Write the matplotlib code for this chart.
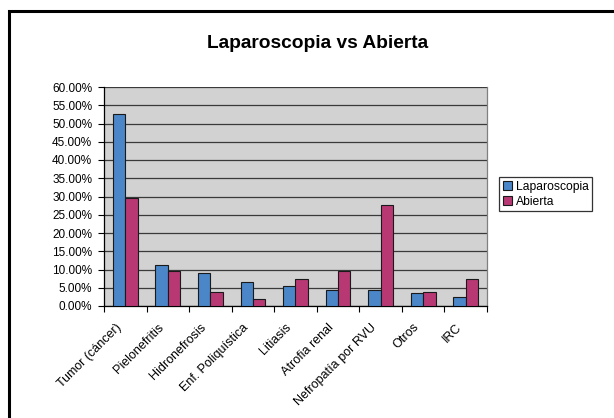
import matplotlib
matplotlib.use("Agg")
import matplotlib.pyplot as plt
import numpy as np
from matplotlib.patches import Rectangle

categories = ["Tumor (cáncer)", "Pielonefritis", "Hidronefrosis", "Enf. Poliquística",
              "Litiasis", "Atrofia renal", "Nefropatía por RVU", "Otros", "IRC"]
laparoscopia = [52.6, 11.1, 9.0, 6.7, 5.6, 4.5, 4.5, 3.5, 2.4]
abierta = [29.5, 9.5, 3.7, 2.0, 7.5, 9.5, 27.8, 3.7, 7.5]
series_names = ["Laparoscopia", "Abierta"]
title = "Laparoscopia vs Abierta"

plt.rcParams['font.family'] = ['Liberation Sans', 'DejaVu Sans']

W, H = 614, 418
fig = plt.figure(figsize=(W / 100, H / 100), dpi=100)
fig.patch.set_facecolor('white')

# outer chart border
fig.patches.append(Rectangle((9 / W, -0.1), 1.2, 1 - 11 / H + 0.1, transform=fig.transFigure,
                             fill=False, edgecolor='black', linewidth=2.2))

left, right, top, bottom = 104, 487, 87, 306
ax = fig.add_axes([left / W, 1 - bottom / H, (right - left) / W, (bottom - top) / H])
ax.set_facecolor('#D2D2D2')

x = np.arange(len(categories))
bw = 0.29
ax.bar(x - bw / 2, laparoscopia, bw, color='#4A86C8', edgecolor='#1a1a1a', linewidth=0.8,
       label=series_names[0], zorder=3)
ax.bar(x + bw / 2, abierta, bw, color='#B83873', edgecolor='#1a1a1a', linewidth=0.8,
       label=series_names[1], zorder=3)

ax.set_xlim(-0.5, len(categories) - 0.5)
ax.set_ylim(0, 60)
ax.set_yticks(np.arange(0, 61, 5))
ax.set_yticklabels([f"{v:.2f}%" for v in np.arange(0, 61, 5)], fontsize=8.5)
ax.yaxis.grid(True, color='#3a3a3a', linewidth=0.9, zorder=1)
ax.set_axisbelow(True)

ax.set_xticks(np.arange(-0.5, len(categories), 1))
ax.set_xticklabels([])
ax.set_xticks(x - 0.24, minor=True)
ax.set_xticklabels(categories, minor=True, rotation=45, ha='right', va='top',
                   rotation_mode='anchor', fontsize=9)
ax.tick_params(axis='x', which='minor', length=0, pad=11)
ax.tick_params(axis='x', which='major', length=4, direction='out', color='black')
ax.tick_params(axis='y', length=4, direction='out', color='black', pad=4.5)

for s in ['left', 'bottom']:
    ax.spines[s].set_color('black')
    ax.spines[s].set_linewidth(0.9)
ax.spines['top'].set_visible(False)
ax.spines['right'].set_color('#808080')
ax.spines['right'].set_linewidth(0.9)

fig.text(318 / W, 1 - 43 / H, title, ha='center', va='center', fontsize=13.8, fontweight='bold')

leg = fig.legend(loc='upper left', bbox_to_anchor=(499 / W, 1 - 177 / H), fontsize=8.7,
                 frameon=True, fancybox=False, edgecolor='black', handlelength=0.8,
                 handleheight=0.8, handletextpad=0.3, borderpad=0.3, labelspacing=0.25,
                 borderaxespad=0)
leg.get_frame().set_linewidth(0.9)

fig.savefig("out.png", dpi=100)
